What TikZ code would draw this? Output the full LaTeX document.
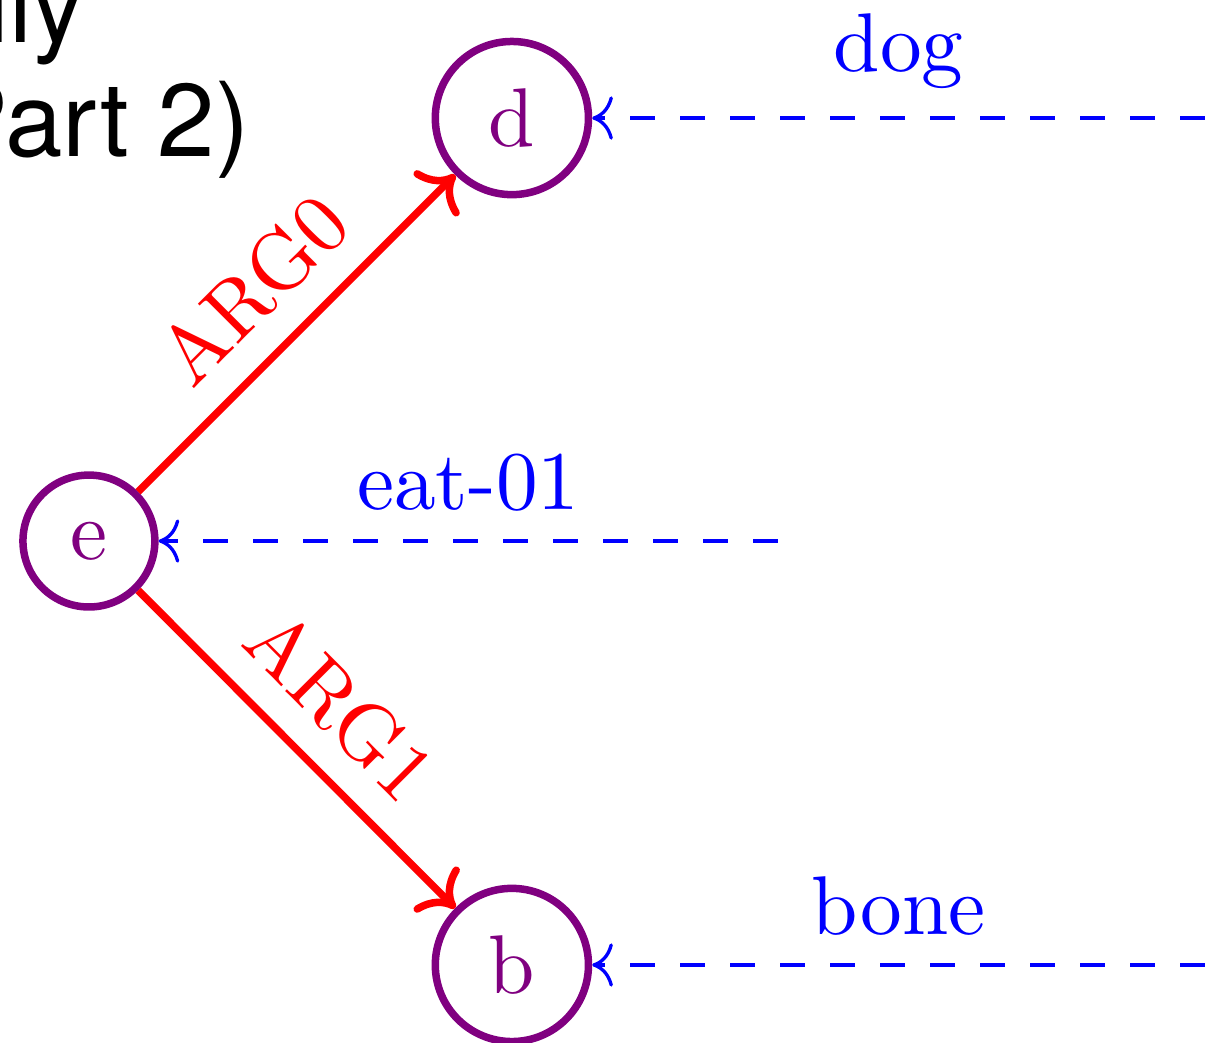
\documentclass[tikz,border=0pt]{standalone}
\usepackage{fontspec}
\newfontfamily\titlefont{TeX Gyre Heros}
\usetikzlibrary{arrows.meta,positioning}
\tikzset{
  ent/.style={circle,draw=violet,line width=0.9pt,text=violet},
  rel/.style={->,line width=0.9pt,red},
  concept/.style={->,dashed,blue},
  title/.style={anchor=base east,inner sep=0pt,font=\titlefont\fontsize{12.4}{15}\selectfont}
}

\begin{document}
\begin{tikzpicture}

  \useasboundingbox (0,0) rectangle (5.154,-4.395);

  \node[title] (T1) at (0.36,-0.181) {lly};
  \node[title] (T2) at (1.06,-0.662) {(Part 2)};

  \node[ent] (e) at (0.375,-2.282) {e};
  \node[ent] (d) at (2.159,-0.498) {d};
  \node[ent] (b) at (2.159,-4.070) {b};

  \coordinate (dogc)  at (5.082,-0.498);
  \coordinate (eatc)  at (3.281,-2.282);
  \coordinate (bonec) at (5.082,-4.070);

  \draw[rel] (e) -- node[sloped,above] {ARG0} (d);
  \draw[rel] (e) -- node[sloped,above] {ARG1} (b);

  \draw[concept] (dogc) -- node[above] {dog} (d);
  \draw[concept] (eatc) -- node[above] {eat-01} (e);
  \draw[concept] (bonec) -- node[above] {bone} (b);

\end{tikzpicture}
\end{document}
